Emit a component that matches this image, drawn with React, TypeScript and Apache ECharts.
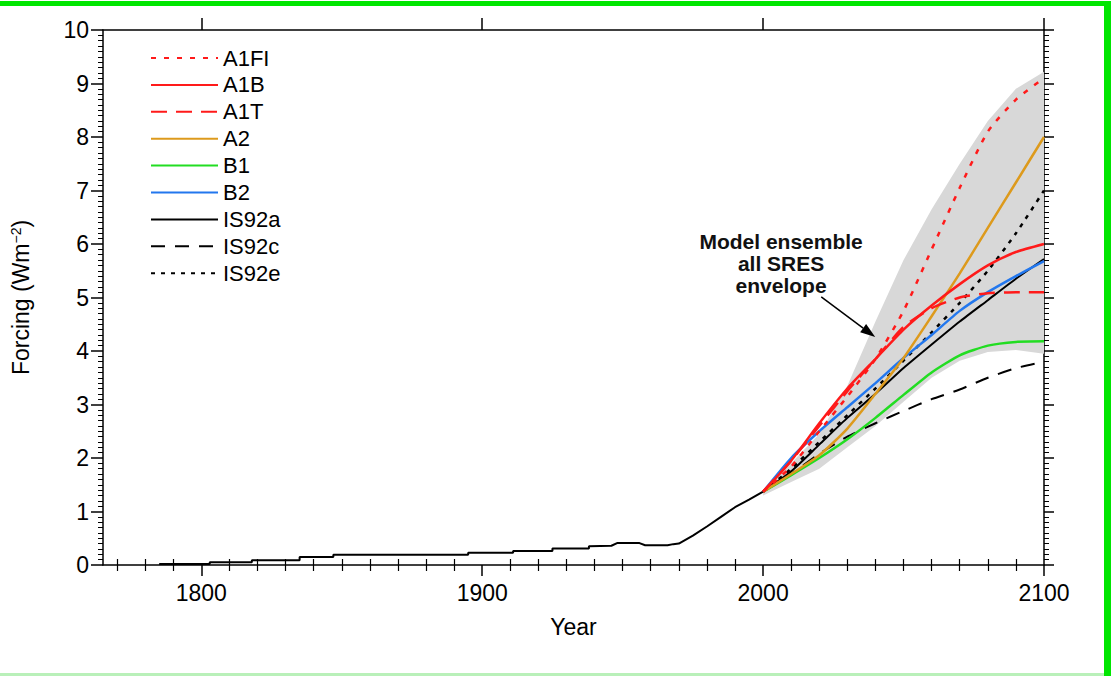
import React, { useEffect, useRef } from "react";
import * as echarts from "echarts";

// ---------- data ----------
const histYears = [1785, 1803, 1803, 1818, 1818, 1835, 1835, 1847, 1847, 1895, 1895, 1911, 1911, 1925, 1925, 1938, 1938, 1946, 1948, 1956, 1958, 1966, 1968, 1970, 1975, 1980, 1985, 1990, 1995, 2000];
const histValues = [0.02, 0.02, 0.05, 0.05, 0.09, 0.09, 0.15, 0.15, 0.19, 0.19, 0.23, 0.23, 0.26, 0.26, 0.31, 0.31, 0.35, 0.36, 0.41, 0.41, 0.37, 0.37, 0.39, 0.4, 0.55, 0.72, 0.9, 1.08, 1.22, 1.37];

const projYears = [2000, 2010, 2020, 2030, 2040, 2050, 2060, 2070, 2080, 2090, 2100];
const a1fi = [1.37, 1.84, 2.5, 3.15, 3.85, 4.75, 5.9, 7.05, 8.1, 8.7, 9.1];
const a1b = [1.37, 1.95, 2.65, 3.3, 3.85, 4.4, 4.85, 5.25, 5.6, 5.85, 6.0];
const a1t = [1.37, 1.95, 2.6, 3.25, 3.85, 4.45, 4.8, 5.0, 5.08, 5.1, 5.1];
const a2 = [1.37, 1.7, 2.05, 2.55, 3.2, 3.87, 4.65, 5.45, 6.3, 7.15, 8.0];
const b1 = [1.37, 1.68, 2.0, 2.35, 2.75, 3.18, 3.6, 3.92, 4.1, 4.17, 4.18];
const b2 = [1.37, 2.0, 2.5, 2.95, 3.4, 3.87, 4.3, 4.75, 5.1, 5.4, 5.68];
const is92a = [1.37, 1.75, 2.25, 2.75, 3.2, 3.68, 4.12, 4.55, 4.95, 5.35, 5.72];
const is92c = [1.37, 1.7, 2.08, 2.4, 2.65, 2.88, 3.1, 3.28, 3.5, 3.68, 3.8];
const is92e = [1.37, 1.8, 2.3, 2.8, 3.3, 3.82, 4.35, 4.9, 5.5, 6.2, 7.0];

const envUpper = [1.4, 1.9, 2.45, 3.35, 4.55, 5.7, 6.65, 7.5, 8.3, 8.9, 9.22];
const envLower = [1.3, 1.55, 1.8, 2.2, 2.6, 3.05, 3.5, 3.82, 3.98, 4.02, 3.95];

const xMajorTicks = [1800, 1900, 2000, 2100];
const xMinorTicks = [1770, 1780, 1790, 1810, 1820, 1830, 1840, 1850, 1860, 1870, 1880, 1890, 1910, 1920, 1930, 1940, 1950, 1960, 1970, 1980, 1990, 2010, 2020, 2030, 2040, 2050, 2060, 2070, 2080, 2090];

const legendNames = ["A1FI", "A1B", "A1T", "A2", "B1", "B2", "IS92a", "IS92c", "IS92e"];

const annotationLines = ["Model ensemble", "all SRES", "envelope"];

const FONT = "Liberation Sans, Arial, Helvetica, sans-serif";

export default function App() {
  const ref = useRef<HTMLDivElement>(null);
  useEffect(() => {
    if (!ref.current) return;
    const chart = echarts.init(ref.current, null, { renderer: "svg" });
    const pairs = (xs: number[], ys: number[]) => xs.map((x, i) => [x, ys[i]]);

    const scen = (name: string, vals: number[], color: string, type: any, width: number, z: number) => ({
      name,
      type: "line",
      data: pairs(projYears, vals),
      symbol: "none",
      smooth: 0.2,
      z,
      lineStyle: { color, width, type, cap: "butt" },
      itemStyle: { color },
    });

    const xBase = {
      type: "value",
      min: 1765,
      max: 2100,
      splitLine: { show: false },
      axisLine: { show: true, onZero: false, lineStyle: { color: "#000", width: 1.5 } },
    };

    const option: any = {
      animation: false,
      backgroundColor: "#fff",
      grid: { left: 103, right: 67, top: 30, bottom: 111, containLabel: false },
      xAxis: [
        {
          ...xBase,
          position: "bottom",
          name: "Year",
          nameLocation: "middle",
          nameGap: 50,
          nameTextStyle: { fontSize: 23, color: "#000", fontFamily: FONT },
          axisTick: { show: true, customValues: xMajorTicks, length: 11, inside: false, lineStyle: { color: "#000", width: 1.5 } },
          axisLabel: {
            show: true,
            customValues: xMajorTicks,
            fontSize: 23,
            color: "#000",
            margin: 16,
            fontFamily: FONT,
            formatter: (v: number) => String(v),
          },
        },
        {
          ...xBase,
          position: "bottom",
          axisLine: { show: false },
          axisTick: { show: true, customValues: xMinorTicks, length: 6, lineStyle: { color: "#000", width: 1.2 } },
          axisLabel: { show: false },
        },
        {
          ...xBase,
          position: "top",
          axisTick: { show: true, customValues: xMajorTicks, length: 12, lineStyle: { color: "#000", width: 1.5 } },
          axisLabel: { show: false },
        },
        {
          ...xBase,
          position: "top",
          axisLine: { show: false },
          axisTick: { show: true, customValues: xMinorTicks, length: 6, lineStyle: { color: "#000", width: 1.2 } },
          axisLabel: { show: false },
        },
      ],
      yAxis: [
        {
          type: "value",
          min: 0,
          max: 10,
          interval: 1,
          position: "left",
          splitLine: { show: false },
          axisLine: { show: true, lineStyle: { color: "#000", width: 1.5 } },
          axisTick: { show: true, length: 12, lineStyle: { color: "#000", width: 1.5 } },
          minorTick: { show: true, splitNumber: 10, length: 5, lineStyle: { color: "#000", width: 1 } },
          minorSplitLine: { show: false },
          axisLabel: { fontSize: 23, color: "#000", margin: 14, fontFamily: FONT },
          name: "Forcing (Wm{sup|−2})",
          nameLocation: "middle",
          nameRotate: 90,
          nameGap: 70,
          nameTextStyle: {
            fontSize: 23,
            color: "#000",
            fontFamily: FONT,
            rich: {
              sup: { fontSize: 14, verticalAlign: "top", color: "#000", fontFamily: FONT, padding: [0, 0, 10, 0] },
            },
          },
        },
        {
          type: "value",
          min: 0,
          max: 10,
          interval: 1,
          position: "right",
          splitLine: { show: false },
          axisLine: { show: true, lineStyle: { color: "#000", width: 1.5 } },
          axisTick: { show: true, length: 10, lineStyle: { color: "#000", width: 1.5 } },
          minorTick: { show: true, splitNumber: 10, length: 5, lineStyle: { color: "#000", width: 1 } },
          axisLabel: { show: false },
        },
      ],
      legend: {
        data: legendNames,
        orient: "vertical",
        left: 145,
        top: 42,
        itemWidth: 67,
        itemHeight: 14,
        itemGap: 4.9,
        itemStyle: { opacity: 0 },
        textStyle: { fontSize: 22, lineHeight: 20, color: "#000", fontFamily: FONT },
        selectedMode: false,
      },
      series: [
        {
          name: "envelope",
          type: "custom",
          silent: true,
          z: 1,
          data: projYears.map((x, i) => [x, envLower[i], envUpper[i]]),
          encode: { x: 0, y: [1, 2] },
          renderItem: (params: any, api: any) => {
            if (params.dataIndex !== 0) return null;
            const up = projYears.map((x, i) => api.coord([x, envUpper[i]]));
            const lo = projYears.map((x, i) => api.coord([x, envLower[i]])).reverse();
            return {
              type: "polygon",
              shape: { points: up.concat(lo) },
              style: { fill: "#d8d8d8" },
            };
          },
        },
        {
          name: "History",
          type: "line",
          data: pairs(histYears, histValues),
          symbol: "none",
          z: 3,
          lineStyle: { color: "#000", width: 2 },
        },
        scen("IS92c", is92c, "#000000", [14, 10], 2, 3),
        scen("IS92a", is92a, "#000000", "solid", 2, 3),
        scen("IS92e", is92e, "#000000", [4, 6], 2.5, 3),
        scen("B1", b1, "#22dd22", "solid", 2.5, 4),
        scen("B2", b2, "#2277ee", "solid", 2.5, 4),
        scen("A2", a2, "#dd9a1c", "solid", 2.5, 4),
        scen("A1T", a1t, "#ff1a1a", [16, 9], 2.5, 5),
        scen("A1B", a1b, "#ff1a1a", "solid", 2.5, 5),
        scen("A1FI", a1fi, "#ff1a1a", [5, 8], 2.5, 5),
      ],
    };
    chart.setOption(option);

    // annotation anchored in data coordinates
    const textPos = chart.convertToPixel({ xAxisIndex: 0, yAxisIndex: 0 }, [2006.4, 5.63]) as number[];
    const arrowStart = chart.convertToPixel({ xAxisIndex: 0, yAxisIndex: 0 }, [2020.7, 5.01]) as number[];
    const arrowTip = chart.convertToPixel({ xAxisIndex: 0, yAxisIndex: 0 }, [2039.9, 4.26]) as number[];
    const dx = arrowTip[0] - arrowStart[0];
    const dy = arrowTip[1] - arrowStart[1];
    const len = Math.sqrt(dx * dx + dy * dy);
    const ux = dx / len, uy = dy / len;
    const nx = -uy, ny = ux;
    const hb = [arrowTip[0] - 15 * ux, arrowTip[1] - 15 * uy];
    const hw = 5;

    chart.setOption({
      graphic: [
        {
          type: "text",
          x: textPos[0],
          y: textPos[1],
          z: 20,
          style: {
            text: annotationLines.join("\n"),
            fontSize: 21,
            fontWeight: "bold",
            fontFamily: FONT,
            fill: "#111",
            align: "center",
            verticalAlign: "middle",
            lineHeight: 22,
          },
        },
        {
          type: "line",
          z: 20,
          shape: { x1: arrowStart[0], y1: arrowStart[1], x2: hb[0], y2: hb[1] },
          style: { stroke: "#000", lineWidth: 1.5 },
        },
        {
          type: "polygon",
          z: 20,
          shape: {
            points: [
              [arrowTip[0], arrowTip[1]],
              [hb[0] + hw * nx, hb[1] + hw * ny],
              [hb[0] - hw * nx, hb[1] - hw * ny],
            ],
          },
          style: { fill: "#000" },
        },
        // green frame of the picture
        { type: "rect", z: 30, shape: { x: 0, y: 1, width: 1111, height: 5 }, style: { fill: "#00e600" } },
        { type: "rect", z: 30, shape: { x: 1104, y: 1, width: 7, height: 675 }, style: { fill: "#00e600" } },
        { type: "rect", z: 30, shape: { x: 0, y: 673, width: 1104, height: 3 }, style: { fill: "#b9f0b9" } },
      ],
    });

    return () => chart.dispose();
  }, []);
  return (
    <div
      ref={ref}
      style={{ position: "fixed", left: 0, top: 0, width: 1111, height: 676, background: "#fff" }}
    />
  );
}
